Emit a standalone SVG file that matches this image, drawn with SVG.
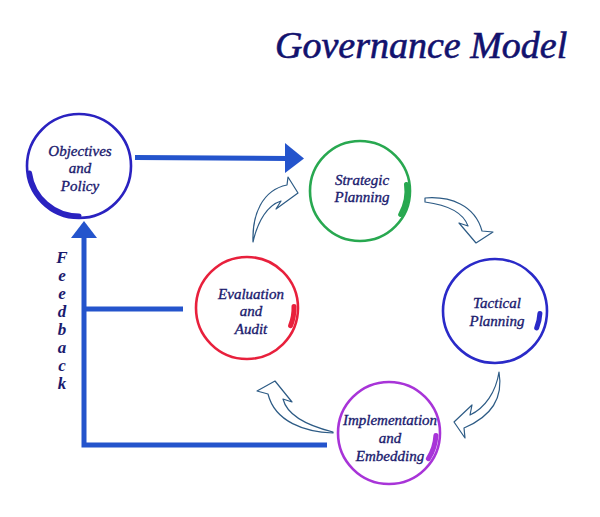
<svg xmlns="http://www.w3.org/2000/svg" width="600" height="517" viewBox="0 0 600 517">
<defs>
<style>
.lbl{font-family:"Liberation Serif","Times New Roman",serif;font-style:italic;font-size:15px;fill:#1a1a6e;stroke:#1a1a6e;stroke-width:0.35;text-anchor:middle}
.ttl{font-family:"Liberation Serif","Times New Roman",serif;font-style:italic;font-size:38px;fill:#12126e;stroke:#12126e;stroke-width:0.6}
.fb{font-family:"Liberation Serif","Times New Roman",serif;font-style:italic;font-weight:bold;font-size:17px;fill:#1a1a6e;writing-mode:vertical-rl;text-orientation:upright;letter-spacing:-1px}
.ring{fill:none;stroke-width:2.6}
.brush{fill:none;stroke-width:5;stroke-linecap:round}
.bar{fill:none;stroke:#2454cc;stroke-width:5}
.head{fill:#2454cc}
.curl{fill:#fff;stroke:#2d5b85;stroke-width:1.2;stroke-linejoin:round}
</style>
</defs>
<rect width="600" height="517" fill="#fff"/>
<text class="ttl" x="275" y="58">Governance Model</text>

<g id="connectors">
<path class="bar" d="M135,157.5 L288,158.5"/>
<path class="head" d="M285,143 L304,158.5 L285,173 Z"/>
<path class="bar" d="M84,236 L84,445 L327,445"/>
<path class="bar" d="M84,309 L183,309"/>
<path class="head" d="M71,238 L84,221 L97,238 Z"/>
<path class="curl" d="M253,242 C252,215 262,190 287,185 L288,177 L298,193 L276,209 L281,201 C268,205 258,220 253,242 Z"/>
<path class="curl" d="M425,198 C450,196 475,205 482,231 L493,232 L476,243 L459,223 L468,226 C463,212 448,205 425,202 Z"/>
<path class="curl" d="M499,372 C503,395 495,415 464,428 L465,438 L454,422 L472,405 L470,415 C485,408 496,392 499,372 Z"/>
<path class="curl" d="M333,433 C305,432 275,422 268,394 L257,391 L275,381 L292,402 L283,399 C287,415 305,425 333,432 Z"/>
</g>

<g id="feedback-label">
<text class="fb" x="62" y="248">Feedback</text>
</g>

<g id="node-objectives">
<circle class="ring" cx="79" cy="166" r="52" stroke="#2a22c0"/>
<path class="brush" stroke="#2a22c0" d="M29.5,172.9 A50 50 0 0 0 79,216"/>
<text class="lbl" x="80" y="156">Objectives</text>
<text class="lbl" x="80" y="173">and</text>
<text class="lbl" x="80" y="191">Policy</text>
</g>

<g id="node-strategic">
<circle class="ring" cx="360" cy="191" r="50" stroke="#28a850"/>
<path class="brush" stroke="#28a850" d="M406.5,184.5 A47 47 0 0 1 400.7,214.5"/>
<text class="lbl" x="362" y="185">Strategic</text>
<text class="lbl" x="362" y="202">Planning</text>
</g>

<g id="node-tactical">
<circle class="ring" cx="495" cy="311" r="52" stroke="#2a2ac8"/>
<path class="brush" stroke="#2a2ac8" d="M539.9,313.4 A45 45 0 0 1 536.7,327.9"/>
<text class="lbl" x="497" y="308">Tactical</text>
<text class="lbl" x="497" y="326">Planning</text>
</g>

<g id="node-implementation">
<circle class="ring" cx="389" cy="433" r="51" stroke="#a834d8"/>
<path class="brush" stroke="#a834d8" d="M435.9,435.5 A47 47 0 0 1 428.4,458.6"/>
<text class="lbl" x="390" y="425">Implementation</text>
<text class="lbl" x="390" y="443">and</text>
<text class="lbl" x="390" y="461">Embedding</text>
</g>

<g id="node-evaluation">
<circle class="ring" cx="247" cy="308" r="51" stroke="#e8203c"/>
<path class="brush" stroke="#e8203c" d="M294,306.4 A47 47 0 0 1 290.6,325.6"/>
<text class="lbl" x="251" y="299">Evaluation</text>
<text class="lbl" x="251" y="316">and</text>
<text class="lbl" x="251" y="334">Audit</text>
</g>
</svg>
